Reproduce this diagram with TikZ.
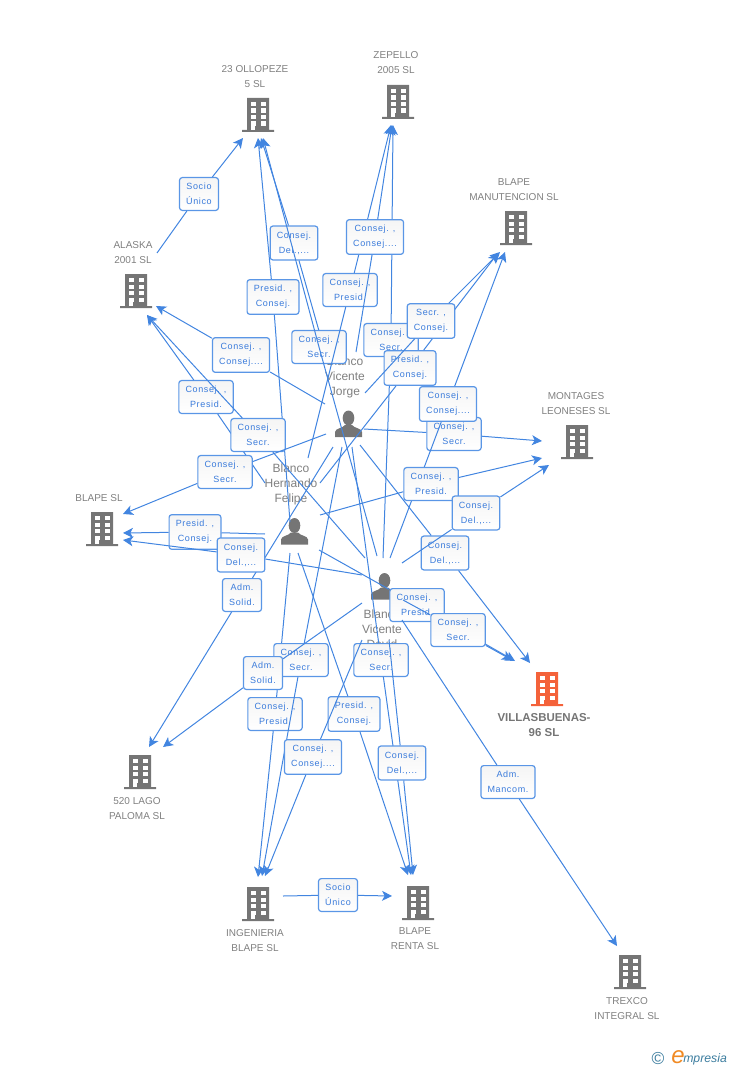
\documentclass[tikz,border=0pt]{standalone}
\usepackage{fontspec}
\usetikzlibrary{arrows.meta}
\setmainfont{Liberation Sans}
\newfontfamily\relfont[LetterSpace=7]{Liberation Sans}
\definecolor{linkblue}{HTML}{4285E0}
\definecolor{boxblue}{HTML}{5A96E6}
\definecolor{textblue}{HTML}{3A7BDB}
\definecolor{icongray}{HTML}{757575}
\definecolor{labelgray}{HTML}{808080}
\definecolor{iconred}{HTML}{F4623A}
\definecolor{logoblue}{HTML}{3B7C9E}
\definecolor{logoorange}{HTML}{F08A24}
\tikzset{
  building/.pic={
    \path[pic actions] (-11,-17) rectangle (11,15) (-16,15) rectangle (16,17);
    \foreach \wy in {-13,-6.5,0,6.5} {\fill[white] (-7.5,\wy) rectangle (-2.5,\wy+4.3);}
    \foreach \wy in {-13,-6.5,0,6.5} {\fill[white] (2.5,\wy) rectangle (7.5,\wy+4.3);}
    \fill[white] (-7.5,6.5) rectangle (-3,14.8);
  },
  person/.pic={
    \path[pic actions] (0,-6) ellipse (5.8 and 7.5);
    \path[pic actions] (-13.5,13) -- (-13.5,8) .. controls (-13,4) and (-6,4.5) .. (-3.5,1)
      -- (3.5,1) .. controls (6,4.5) and (13,4) .. (13.5,8) -- (13.5,13) -- cycle;
  }
}
\begin{document}
\begin{tikzpicture}[x=0.75pt,y=-0.75pt,
    bldg/.style={fill=icongray},
    bldgmain/.style={fill=iconred},
    company/.style={font=\fontsize{7.5}{11.25}\selectfont,text=labelgray,align=center,inner sep=0pt},
    mainco/.style={font=\fontsize{8.6}{11.25}\selectfont\bfseries,text=icongray,align=center,inner sep=0pt},
    who/.style={font=\fontsize{9}{11.25}\selectfont,text=labelgray,align=center,inner sep=0pt},
    rel/.style={font=\relfont\fontsize{6.75}{11.25}\selectfont,text=textblue,align=center,draw=boxblue,line width=0.9pt,
      rounded corners=2pt,top color=gray!8,bottom color=white,inner xsep=5pt,inner ysep=4.2pt},
    link/.style={draw=linkblue,line width=0.75pt,-{Stealth[length=7.5pt,width=7.5pt,inset=2pt]}}]
    \useasboundingbox (0,0) rectangle (728,1070);

    % companies
    \pic[bldg] at (258,115) {building};
    \node[company] (oll) at (255,77) {23 OLLOPEZE\\5 SL};
    \pic[bldg] at (398,102) {building};
    \node[company] (zep) at (396,63) {ZEPELLO\\2005 SL};
    \pic[bldg] at (516,228) {building};
    \node[company] (man) at (514,190) {BLAPE\\MANUTENCION SL};
    \pic[bldg] at (136,291) {building};
    \node[company] (ala) at (133,253) {ALASKA\\2001 SL};
    \pic[bldg] at (577,442) {building};
    \node[company] (mon) at (576,404) {MONTAGES\\LEONESES SL};
    \pic[bldg] at (102,529) {building};
    \node[company] (bla) at (99,498) {BLAPE SL};
    \pic[bldgmain] at (547,689) {building};
    \node[mainco] (vil) at (544,725) {VILLASBUENAS-\\96 SL};
    \pic[bldg] at (140,772) {building};
    \node[company] (lag) at (137,809) {520 LAGO\\PALOMA SL};
    \pic[bldg] at (258,904) {building};
    \node[company] (ing) at (255,941) {INGENIERIA\\BLAPE SL};
    \pic[bldg] at (418,903) {building};
    \node[company] (ren) at (415,939) {BLAPE\\RENTA SL};
    \pic[bldg] at (630,972) {building};
    \node[company] (tre) at (627,1009) {TREXCO\\INTEGRAL SL};

    % people
    \pic[bldg] at (348.5,424) {person};
    \node[who] (jor) at (345,377) {Blanco\\Vicente\\Jorge};
    \pic[bldg] at (294.5,531.5) {person};
    \node[who] (hen) at (291,484) {Blanco\\Hernando\\Felipe};
    \pic[bldg] at (384.5,586.5) {person};
    \node[who] (dav) at (382,629) {Blanco\\Vicente\\David};

    % links, in drawing order
    \coordinate (soc0) at (157,253);
    \coordinate (soc1) at (243,138);
    \node[rel] (soc) at (199,194) {Socio\\Único};
    \draw[link] (soc0) -- (soc) -- (soc1);

    \coordinate (holl0) at (290,522);
    \coordinate (holl1) at (258,138);
    \node[rel] (holl) at (273,297) {Presid. ,\\Consej.};
    \draw[link] (holl0) -- (holl) -- (holl1);

    \coordinate (joll0) at (325,352);
    \coordinate (joll1) at (261,138);
    \node[rel] (joll) at (294,243) {Consej.\\Del.,...};
    \draw[link] (joll0) -- (joll) -- (joll1);

    \coordinate (hala0) at (265,483);
    \coordinate (hala1) at (147,315);
    \node[rel] (hala) at (206,397) {Consej. ,\\Presid.};
    \draw[link] (hala0) -- (hala) -- (hala1);

    \coordinate (dala0) at (365,558);
    \coordinate (dala1) at (147,315);
    \node[rel] (dala) at (258,435) {Consej. ,\\Secr.};
    \draw[link] (dala0) -- (dala) -- (dala1);

    \coordinate (jala0) at (325,404);
    \coordinate (jala1) at (156,306);
    \node[rel] (jala) at (241,355) {Consej. ,\\Consej....};
    \draw[link] (jala0) -- (jala) -- (jala1);

    \coordinate (doll0) at (377,556);
    \coordinate (doll1) at (263,138);
    \node[rel] (doll) at (319,347) {Consej. ,\\Secr.};
    \draw[link] (doll0) -- (doll.center) -- (doll1);

    \coordinate (dzep0) at (383,558);
    \coordinate (dzep1) at (393,125);
    \node[rel] (dzep) at (391,340) {Consej. ,\\Secr.};
    \draw[link] (dzep0) -- (dzep) -- (dzep1);

    \coordinate (hzep0) at (308,458);
    \coordinate (hzep1) at (391,125);
    \node[rel] (hzep) at (350,290) {Consej. ,\\Presid.};
    \draw[link] (hzep0) -- (hzep) -- (hzep1);

    \coordinate (jzep0) at (356,352);
    \coordinate (jzep1) at (392,125);
    \node[rel] (jzep) at (375,237) {Consej. ,\\Consej....};
    \draw[link] (jzep0) -- (jzep) -- (jzep1);

    \coordinate (hman0) at (320,483);
    \coordinate (hman1) at (498,253);
    \node[rel] (hman) at (410,368) {Presid. ,\\Consej.};
    \draw[link] (hman0) -- (hman) -- (hman1);

    \coordinate (jman0) at (365,393);
    \coordinate (jman1) at (500,252);
    \node[rel] (jman) at (431,321) {Secr. ,\\Consej.};
    \draw[link] (jman0) -- (jman) -- (jman1);

    \coordinate (jmon0) at (364,429);
    \coordinate (jmon1) at (542,441);
    \node[rel] (jmon) at (454,434) {Consej. ,\\Secr.};
    \draw[link] (jmon0) -- (jmon) -- (jmon1);

    \coordinate (dman0) at (390,558);
    \coordinate (dman1) at (505,252);
    \node[rel] (dman) at (448,404) {Consej. ,\\Consej....};
    \draw[link] (dman0) -- (dman) -- (dman1);

    \coordinate (jbla0) at (326,434);
    \coordinate (jbla1) at (123,514);
    \node[rel] (jbla) at (225,472) {Consej. ,\\Secr.};
    \draw[link] (jbla0) -- (jbla) -- (jbla1);

    \coordinate (hbla0) at (265,534);
    \coordinate (hbla1) at (123,533);
    \node[rel] (hbla) at (195,532) {Presid. ,\\Consej.};
    \draw[link] (hbla0) -- (hbla) -- (hbla1);

    \coordinate (jlag0) at (333,447);
    \coordinate (jlag1) at (149,747);
    \node[rel] (jlag) at (242,595) {Adm.\\Solid.};
    \draw[link] (jlag0) -- (jlag) -- (jlag1);

    \coordinate (dbla0) at (362,575);
    \coordinate (dbla1) at (123,540);
    \node[rel] (dbla) at (241,555) {Consej.\\Del.,...};
    \draw[link] (dbla0) -- (dbla) -- (dbla1);

    \coordinate (hmon0) at (320,515);
    \coordinate (hmon1) at (542,458);
    \node[rel] (hmon) at (431,484) {Consej. ,\\Presid.};
    \draw[link] (hmon0) -- (hmon) -- (hmon1);

    \coordinate (jvil0) at (360,445);
    \coordinate (jvil1) at (530,663);
    \node[rel] (jvil) at (445,553) {Consej.\\Del.,...};
    \draw[link] (jvil0) -- (jvil) -- (jvil1);

    \coordinate (dmon0) at (402,563);
    \coordinate (dmon1) at (549,465);
    \node[rel] (dmon) at (476,513) {Consej.\\Del.,...};
    \draw[link] (dmon0) -- (dmon) -- (dmon1);

    \coordinate (hvil0) at (319,550);
    \coordinate (hvil1) at (515,661);
    \node[rel] (hvil) at (417,605) {Consej. ,\\Presid.};
    \draw[link] (hvil0) -- (hvil) -- (hvil1);

    \coordinate (dvil0) at (403,600);
    \coordinate (dvil1) at (512,660);
    \node[rel] (dvil) at (458,630) {Consej. ,\\Secr.};
    \draw[link] (dvil0) -- (dvil) -- (dvil1);

    \coordinate (ding0) at (362,640);
    \coordinate (ding1) at (265,876);
    \coordinate (hing0) at (290,553);
    \coordinate (hing1) at (258,877);
    \node[rel] (hing) at (275,714) {Consej. ,\\Presid.};
    \draw[link] (hing0) -- (hing) -- (hing1);

    \coordinate (jing0) at (342,447);
    \coordinate (jing1) at (262,876);
    \node[rel] (jing) at (301,660) {Consej. ,\\Secr.};
    \draw[link] (jing0) -- (jing) -- (jing1);

    \coordinate (dlag0) at (362,603);
    \coordinate (dlag1) at (163,747);
    \node[rel] (dlag) at (263,673) {Adm.\\Solid.};
    \draw[link] (dlag0) -- (dlag) -- (dlag1);

    \coordinate (jren0) at (352,447);
    \coordinate (jren1) at (411,875);
    \node[rel] (jren) at (381,660) {Consej. ,\\Secr.};
    \draw[link] (jren0) -- (jren) -- (jren1);

    \coordinate (hren0) at (298,553);
    \coordinate (hren1) at (408,875);
    \node[rel] (hren) at (354,714) {Presid. ,\\Consej.};
    \draw[link] (hren0) -- (hren) -- (hren1);

    \node[rel] (ding) at (313,757) {Consej. ,\\Consej....};
    \draw[link] (ding0) -- (ding) -- (ding1);

    \coordinate (dren0) at (389,640);
    \coordinate (dren1) at (413,875);
    \node[rel] (dren) at (402,763) {Consej.\\Del.,...};
    \draw[link] (dren0) -- (dren) -- (dren1);

    \coordinate (dtre0) at (402,620);
    \coordinate (dtre1) at (617,946);
    \node[rel] (dtre) at (508,782) {Adm.\\Mancom.};
    \draw[link] (dtre0) -- (dtre) -- (dtre1);

    \coordinate (iren0) at (283,896);
    \coordinate (iren1) at (392,896);
    \node[rel] (iren) at (338,895) {Socio\\Único};
    \draw[link] (iren0) -- (iren) -- (iren1);

    % logo
    \node[text=logoblue,font=\fontsize{13}{13}\selectfont,inner sep=0pt] (copy) at (658,1059) {©};
    \node[text=logoorange,font=\fontsize{18}{18}\selectfont\itshape,inner sep=0pt] (logoe) at (678,1057) {e};
    \node[text=logoblue,font=\fontsize{9.2}{10}\selectfont\itshape,inner sep=0pt,anchor=west] (logo) at (683,1059) {mpresia};
\end{tikzpicture}
\end{document}
